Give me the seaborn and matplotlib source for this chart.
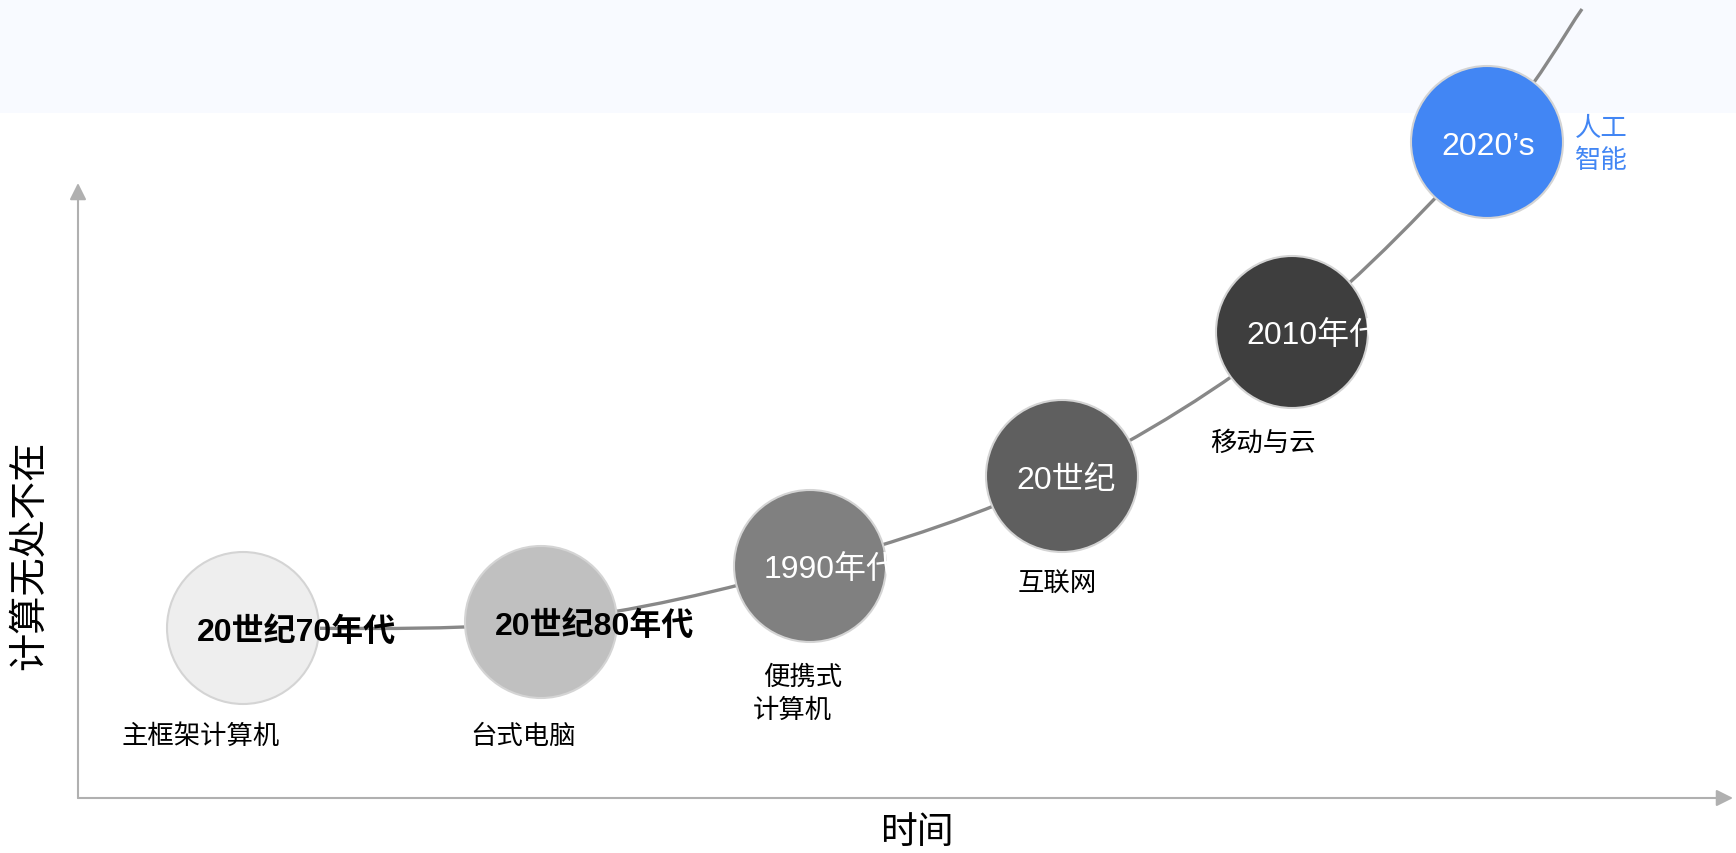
import numpy as np
import pandas as pd
import seaborn as sns
import matplotlib.pyplot as plt
from matplotlib.patches import Circle, Rectangle, PathPatch
from matplotlib.path import Path

# eras (time along x, computing presence along y)
era_labels = ['20世纪70年代', '20世纪80年代', '1990年代', '20世纪', '2010年代', '2020’s']
era_tech = ['主框架计算机', '台式电脑', '便携式\n计算机', '互联网', '移动与云', '人工\n智能']
era_time = [1.65, 4.63, 7.32, 9.84, 12.14, 14.09]
era_level = [1.70, 1.76, 2.32, 3.22, 4.66, 6.56]
# where the trend curve leaves the top of the picture
curve_end_time = 15.04
curve_end_level = 7.89

# styling
era_colors = ['#eeeeee', '#c0c0c0', '#808080', '#5f5f5f', '#3e3e3e', '#4286f4']
tech_colors = ['black'] * 5 + ['#4286f4']
# per line offsets (px) of the sub labels from the circle centre
tech_offsets = [[(-121, 107)], [(-71, 113)], [(-47, 110), (-57, 143)],
                [(-44, 106)], [(-82, 110)], [(88, -15), (88, 18)]]

sns.set_theme(style='white')
plt.rcParams['font.family'] = ['Liberation Sans', 'Noto Sans CJK SC']

fig = plt.figure(figsize=(17.36, 8.54), dpi=100)
fig.add_artist(Rectangle((0, 1 - 114 / 854), 1, 114 / 854, transform=fig.transFigure,
                         facecolor='#f8faff', edgecolor='none', zorder=-1))
ax = fig.add_axes([78 / 1736, 55 / 854, 1655 / 1736, 615 / 854])
ax.set_facecolor('none')
ax.set_xlim(0, 16.55)
ax.set_ylim(0, 6.15)

# smooth trend curve through the eras
pts = np.array(list(zip(era_time, era_level)) + [(curve_end_time, curve_end_level)])
padded = np.vstack([pts[0], pts, pts[-1]])
verts = [pts[0]]
codes = [Path.MOVETO]
for i in range(len(pts) - 1):
    p0, p1, p2, p3 = padded[i], padded[i + 1], padded[i + 2], padded[i + 3]
    verts += [p1 + (p2 - p0) / 6, p2 - (p3 - p1) / 6, p2]
    codes += [Path.CURVE4] * 3
ax.add_patch(PathPatch(Path(verts, codes), facecolor='none', edgecolor='#888888',
                       lw=2.4, zorder=2, clip_on=False))

# circles
radius = 0.76
df = pd.DataFrame({'time': era_time, 'level': era_level, 'era': era_labels})
sns.scatterplot(data=df, x='time', y='level', hue='era', palette=era_colors,
                s=(2 * radius * 100 * 72 / 100) ** 2, edgecolor='#d4d4d4', linewidth=1.5,
                legend=False, ax=ax, zorder=3, clip_on=False)

for i, (lab, x, y) in enumerate(zip(era_labels, era_time, era_level)):
    dark = i >= 2
    t = ax.annotate(lab, (x, y), xytext=(-46, -4), textcoords='offset pixels',
                    ha='left', va='center', fontsize=23,
                    color='white' if dark else 'black',
                    fontweight='normal' if dark else 'bold',
                    zorder=4, annotation_clip=False)
    if dark:
        t.set_clip_path(Circle((x, y), radius, transform=ax.transData))
    else:
        t.set_clip_on(False)

    for line, (dx, dy) in zip(era_tech[i].split('\n'), tech_offsets[i]):
        ax.annotate(line, (x, y), xytext=(dx, -dy), textcoords='offset pixels',
                    ha='left', va='center', fontsize=19, color=tech_colors[i],
                    family='Noto Sans CJK SC', annotation_clip=False, clip_on=False)

# axes with arrows
ax.set_xticks([])
ax.set_yticks([])
for sp in ax.spines.values():
    sp.set_visible(False)
arrow = dict(arrowstyle='-|>,head_length=0.5,head_width=0.25', color='#b0b0b0',
             lw=1.5, shrinkA=0, shrinkB=0, mutation_scale=20)
ax.annotate('', xy=(0, 1), xytext=(0, 0), xycoords='axes fraction', arrowprops=arrow)
ax.annotate('', xy=(1, 0), xytext=(0, 0), xycoords='axes fraction', arrowprops=arrow)

ax.set_xlabel('时间', fontsize=26.5, family='Noto Sans CJK SC', color='black', va='center')
ax.set_ylabel('计算无处不在', fontsize=27.5, family='Noto Sans CJK SC', color='black', va='center')
ax.xaxis.set_label_coords(0.507, -0.055)
ax.yaxis.set_label_coords(-0.029, 0.397)

fig.savefig('out.png', dpi=100)
